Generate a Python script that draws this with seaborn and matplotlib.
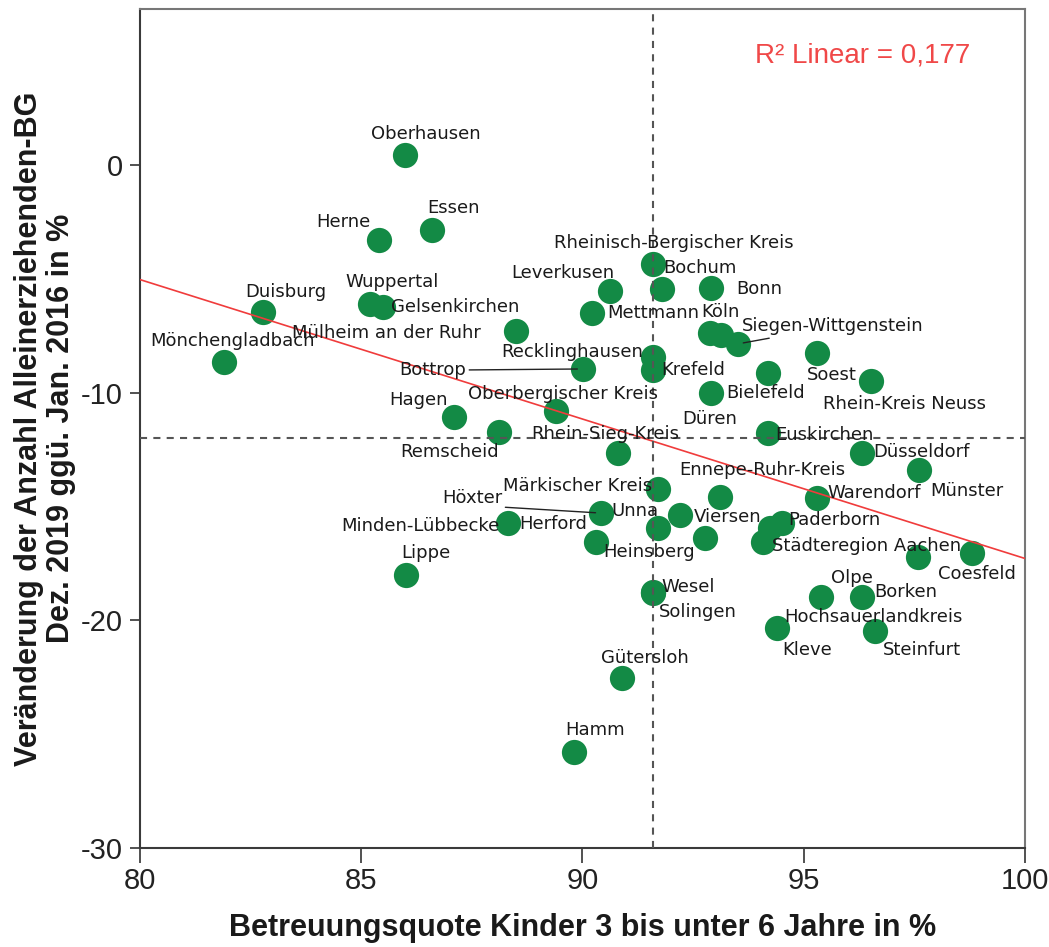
import numpy as np
import pandas as pd
import matplotlib
matplotlib.use("Agg")
import matplotlib.pyplot as plt
from matplotlib import font_manager
import seaborn as sns

# Kreise und kreisfreie Städte: Betreuungsquote (x) und Veränderung Alleinerziehenden-BG (y)
names = [
    "Oberhausen", "Herne", "Essen", "Duisburg", "Mönchengladbach", "Wuppertal",
    "Gelsenkirchen", "Mülheim an der Ruhr", "Bottrop", "Recklinghausen", "Krefeld",
    "Leverkusen", "Mettmann", "Rheinisch-Bergischer Kreis", "Bochum", "Bonn", "Köln",
    "", "Siegen-Wittgenstein", "Soest", "Bielefeld", "Rhein-Kreis Neuss", "Düren",
    "Euskirchen", "Düsseldorf", "Münster", "Warendorf", "Paderborn", "",
    "Städteregion Aachen", "Hochsauerlandkreis", "Coesfeld", "Ennepe-Ruhr-Kreis",
    "Märkischer Kreis", "Höxter", "Minden-Lübbecke", "Herford", "Unna", "Viersen",
    "Heinsberg", "Rhein-Sieg-Kreis", "Oberbergischer Kreis", "Hagen", "Remscheid",
    "Lippe", "Wesel", "Solingen", "Gütersloh", "Hamm", "Olpe", "Borken", "Kleve",
    "Steinfurt",
]
quote = [
    85.99, 85.40, 86.60, 82.78, 81.90, 85.20,
    85.49, 88.50, 90.01, 91.59, 91.59,
    90.62, 90.21, 91.59, 91.80, 92.90, 92.88,
    93.13, 93.51, 95.30, 94.19, 96.52, 92.90,
    94.19, 96.32, 97.60, 95.30, 94.51, 94.24,
    94.08, 97.58, 98.80, 93.11,
    91.71, 90.42, 88.32, 90.31, 91.71, 92.20,
    92.77, 90.80, 89.40, 87.10, 88.11,
    86.01, 91.59, 91.60, 90.89, 89.81, 95.39, 96.32, 94.40,
    96.61,
]
change = [
    0.44, -3.29, -2.85, -6.46, -8.65, -6.11,
    -6.24, -7.29, -8.96, -8.43, -9.00,
    -5.53, -6.50, -4.35, -5.45, -5.40, -7.38,
    -7.47, -7.86, -8.26, -9.14, -9.49, -10.01,
    -11.77, -12.65, -13.40, -14.63, -15.72, -15.94,
    -16.56, -17.22, -17.04, -14.58,
    -14.23, -15.29, -15.72, -16.56, -15.94, -15.37,
    -16.38, -12.65, -10.80, -11.07, -11.73,
    -18.01, -18.76, -18.80, -22.53, -25.78, -18.97, -18.97, -20.34,
    -20.47,
]
x_ticks = [80, 85, 90, 95, 100]
y_ticks = [-30, -20, -10, 0]
x_ref = 91.6   # Landesdurchschnitt Betreuungsquote
y_ref = -12.0  # Landesdurchschnitt Veränderung
r2_linear = 0.177  # Bestimmtheitsmaß der linearen Anpassung

# label placement: offset in pixels (dx, dy upwards) and horizontal alignment
label_pos = {
    "Oberhausen": (21, 21, "center"), "Herne": (-36, 18, "center"),
    "Essen": (21, 22, "center"), "Duisburg": (23, 20, "center"),
    "Mönchengladbach": (8, 21, "center"), "Wuppertal": (22, 22, "center"),
    "Gelsenkirchen": (8, 0, "left"), "Mülheim an der Ruhr": (-35, -2, "right"),
    "Bottrop": (-117, -1, "right"), "Recklinghausen": (-10, 5, "right"),
    "Krefeld": (8, 0, "left"), "Leverkusen": (-47, 18, "center"),
    "Mettmann": (15, 0, "left"), "Rheinisch-Bergischer Kreis": (21, 21, "center"),
    "Bochum": (1, 21, "left"), "Bonn": (25, -1, "left"),
    "Köln": (10, 21, "center"), "Siegen-Wittgenstein": (4, 18, "left"),
    "Soest": (15, -22, "center"), "Bielefeld": (-2, -20, "center"),
    "Rhein-Kreis Neuss": (33, -23, "center"), "Düren": (-1, -26, "center"),
    "Euskirchen": (7, -2, "left"), "Düsseldorf": (11, 1, "left"),
    "Münster": (11, -21, "left"), "Warendorf": (10, 5, "left"),
    "Paderborn": (6, 3, "left"), "Städteregion Aachen": (9, -4, "left"),
    "Hochsauerlandkreis": (-44, -60, "center"),
    "Coesfeld": (5, -21, "center"), "Ennepe-Ruhr-Kreis": (42, 27, "center"),
    "Märkischer Kreis": (-6, 3, "right"), "Höxter": (-99, 15, "right"),
    "Minden-Lübbecke": (-9, -3, "right"), "Herford": (-9, 18, "right"),
    "Unna": (0, 17, "right"), "Viersen": (14, -2, "left"),
    "Heinsberg": (-10, -14, "right"), "Rhein-Sieg-Kreis": (-13, 19, "center"),
    "Oberbergischer Kreis": (7, 17, "center"), "Hagen": (-36, 17, "center"),
    "Remscheid": (-49, -20, "center"), "Lippe": (20, 22, "center"),
    "Wesel": (9, 5, "left"), "Solingen": (6, -19, "left"),
    "Gütersloh": (23, 20, "center"), "Hamm": (21, 22, "center"),
    "Olpe": (31, 19, "center"), "Borken": (12, 5, "left"),
    "Kleve": (30, -22, "center"), "Steinfurt": (47, -19, "center"),
}
# labels connected to their point by a thin leader line (anchor on the text box)
leaders = {"Bottrop": (1.0, 0.5), "Höxter": (1.0, 0.0), "Siegen-Wittgenstein": (0.25, 0.0)}

df = pd.DataFrame({"name": names, "quote": quote, "change": change})

sns.set_style("white")


def pick(*fams):
    avail = {f.name for f in font_manager.fontManager.ttflist}
    for f in fams:
        if f in avail:
            return f
    return "DejaVu Sans"


narrow = pick("Liberation Sans Narrow", "DejaVu Sans Condensed", "Liberation Sans")
arial = pick("Liberation Sans", "DejaVu Sans")
plt.rcParams["font.family"] = ["DejaVu Sans"]

fig = plt.figure(figsize=(10.49, 9.47), dpi=100)
ax = fig.add_axes([0.13346, 0.10454, 0.84366, 0.88596])
ax.set_xlim(80, 100)
ax.set_ylim(-30, 6.85)

green = "#138a45"
sns.scatterplot(data=df, x="quote", y="change", ax=ax, s=330, color=green,
                linewidth=0, zorder=2, legend=False)
sns.regplot(data=df, x="quote", y="change", ax=ax, scatter=False, ci=None,
            truncate=False, line_kws=dict(color="#f03c3c", lw=1.2, zorder=3))

ref_kw = dict(color="#555555", lw=1.5, ls=(0, (3.4, 3.0)), zorder=3)
ax.axvline(x_ref, **ref_kw)
ax.axhline(y_ref, **ref_kw)

for name, xv, yv in zip(names, quote, change):
    if not name:
        continue
    dx, dy, ha = label_pos[name]
    kw = {}
    if name in leaders:
        kw["arrowprops"] = dict(arrowstyle="-", color="#222222", lw=1.0,
                                shrinkA=0, shrinkB=4, relpos=leaders[name])
    ax.annotate(name, xy=(xv, yv), xytext=(dx, dy), textcoords="offset pixels",
                ha=ha, va="center", fontsize=13, color="#1a1a1a",
                family="DejaVu Sans", zorder=5, **kw)

ax.text(0.816, 0.945, "R² Linear = " + f"{r2_linear:.3f}".replace(".", ","),
        transform=ax.transAxes, ha="center", va="center", fontsize=20,
        color="#f04848", family=arial)

ax.set_xticks(x_ticks)
ax.set_yticks(y_ticks)
ax.set_xticklabels([str(v) for v in x_ticks])
ax.set_yticklabels([str(v) for v in y_ticks])
for lab in ax.get_xticklabels() + ax.get_yticklabels():
    lab.set_fontfamily(narrow)
    lab.set_fontsize(21)
    lab.set_color("#222222")
ax.tick_params(axis="x", direction="out", length=10.8, width=1.2, color="#333333",
               pad=3, bottom=True)
ax.tick_params(axis="y", direction="out", length=7.2, width=1.2, color="#333333",
               pad=5, left=True)

for side in ["left", "bottom"]:
    ax.spines[side].set_color("#3a3a3a")
    ax.spines[side].set_linewidth(1.5)
for side in ["top", "right"]:
    ax.spines[side].set_color("#777777")
    ax.spines[side].set_linewidth(1.5)

ax.set_xlabel("Betreuungsquote Kinder 3 bis unter 6 Jahre in %", fontsize=22,
              family=arial, fontweight="bold", color="#1a1a1a", va="center")
ax.set_ylabel("Veränderung der Anzahl Alleinerziehenden-BG\nDez. 2019 ggü. Jan. 2016 in %",
              fontsize=22, family=arial, fontweight="bold", color="#1a1a1a",
              va="center", linespacing=1.1)
ax.xaxis.set_label_coords(0.5, -0.0954)
ax.yaxis.set_label_coords(-0.1073, 0.5)

fig.savefig("out.png", dpi=100)
